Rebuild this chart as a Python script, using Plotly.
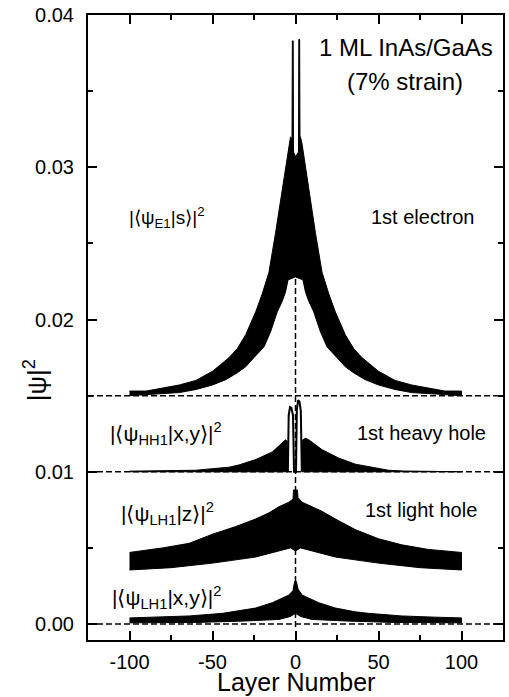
import plotly.graph_objects as go

# ---------------- data ----------------
# 1st electron |<psi_E1|s>|^2  (offset baseline 0.015)
e_up_x = [-100, -90, -80, -70, -60, -50, -40, -35, -30, -24, -20, -16, -12, -9, -6, -4, -3, -2.1, -1.9, -1.4, -1.2,
          0, 1.8, 2.0, 2.5, 2.7, 3, 4, 6, 9, 12, 16, 20, 24, 30, 35, 40, 50, 60, 70, 80, 90, 100]
e_up_y = [0.0153, 0.0153, 0.0155, 0.0157, 0.0160, 0.0166, 0.0175, 0.0181, 0.0190, 0.0205, 0.0217, 0.0231, 0.0257,
          0.0279, 0.0300, 0.0315, 0.0320, 0.0318, 0.0383, 0.0383, 0.0310,
          0.0307, 0.0310, 0.0384, 0.0384, 0.0318, 0.0320, 0.0315, 0.0300, 0.0279, 0.0257, 0.0231, 0.0217, 0.0205,
          0.0190, 0.0181, 0.0175, 0.0166, 0.0160, 0.0157, 0.0155, 0.0153, 0.0153]
e_lo_x = [-100, -85, -70, -60, -50, -42, -35, -30, -25, -19, -15, -11, -8, -6, -4.5, 0,
          4.5, 6, 8, 11, 15, 19, 25, 30, 35, 42, 50, 60, 70, 85, 100]
e_lo_y = [0.0150, 0.0151, 0.0152, 0.0154, 0.0157, 0.01605, 0.0165, 0.0169, 0.0175, 0.0182, 0.0192, 0.0205, 0.0212,
          0.0218, 0.0226, 0.0228,
          0.0226, 0.0218, 0.0212, 0.0205, 0.0192, 0.0182, 0.0175, 0.0169, 0.0165, 0.01605, 0.0157, 0.0154, 0.0152,
          0.0151, 0.0150]

# 1st heavy hole |<psi_HH1|x,y>|^2 (offset baseline 0.010)
hh_left_x = [-100, -70, -60, -50, -40, -34, -24, -14, -8, -6, -5, -4.6]
hh_left_up = [0.01004, 0.01005, 0.0101, 0.0102, 0.0103, 0.01045, 0.0108, 0.0113, 0.0119, 0.0121, 0.0120, 0.0103]
hh_left_lo = [0.0100] * len(hh_left_x)
hh_right_x = [3.8, 4.4, 6, 8, 16, 26, 36, 46, 56, 65, 100]
hh_right_up = [0.0103, 0.0121, 0.0122, 0.0121, 0.01145, 0.0109, 0.0105, 0.0103, 0.0101, 0.01005, 0.01004]
hh_right_lo = [0.0100] * len(hh_right_x)
hh_mid_x = [-4.6, -4.1, -3.3, -2.5, -1.5, -0.9, 0.3, 0.8, 1.6, 2.4, 3.2, 3.8]
hh_mid_y = [0.0100, 0.0137, 0.01425, 0.0142, 0.0137, 0.0100, 0.0100, 0.0141, 0.0147, 0.0146, 0.0140, 0.0100]

# 1st light hole |<psi_LH1|z>|^2
lz_up_x = [-100, -90, -80, -64, -50, -36, -24, -16, -10, -4, -1.5, -1.2, 1.2, 1.5, 4, 10, 16, 24, 36, 50, 64, 80, 90, 100]
lz_up_y = [0.0047, 0.00485, 0.0050, 0.0053, 0.0059, 0.0064, 0.0069, 0.0073, 0.0077, 0.0080, 0.0082, 0.0088,
           0.0088, 0.0083, 0.0080, 0.0077, 0.0074, 0.0069, 0.0062, 0.0056, 0.0052, 0.0049, 0.0048, 0.0047]
lz_lo_x = [-100, -75, -50, -24, -10, -3, 0, 3, 10, 24, 50, 75, 100]
lz_lo_y = [0.00355, 0.0037, 0.0040, 0.0044, 0.0048, 0.0050, 0.0048, 0.0050, 0.0048, 0.0044, 0.0040, 0.0037, 0.00355]

# 1st light hole |<psi_LH1|x,y>|^2
lxy_up_x = [-100, -84, -64, -44, -24, -14, -8, -4, -1.5, -0.5, 0.5, 1.5, 4, 8, 14, 24, 36, 44, 64, 84, 100]
lxy_up_y = [0.0004, 0.00045, 0.00053, 0.0007, 0.00105, 0.0014, 0.0017, 0.0019, 0.0022, 0.0028, 0.0028, 0.0023,
            0.0019, 0.0017, 0.0014, 0.00105, 0.0008, 0.0007, 0.00053, 0.00045, 0.0004]
lxy_lo_x = [-100, -60, -30, -10, -3, 0, 3, 10, 30, 60, 100]
lxy_lo_y = [0.00008, 0.0001, 0.0002, 0.0003, 0.0005, 0.0007, 0.0005, 0.0003, 0.0002, 0.0001, 0.00008]

baselines = [0.015, 0.010, 0.000]
x_range = [-125, 125]
y_range = [-0.00105, 0.0400]
center_line_y = [-0.0002, 0.0228]

x_ticks = [-100, -50, 0, 50, 100]
y_ticks = [0.00, 0.01, 0.02, 0.03, 0.04]

FONT = "Liberation Sans, Arial, Helvetica, sans-serif"
DASH = "6px,3px"

fig = go.Figure()

# dashed reference lines
for b in baselines:
    fig.add_trace(go.Scatter(x=x_range, y=[b, b], mode="lines",
                             line=dict(color="black", width=1.5, dash=DASH), hoverinfo="skip"))
fig.add_trace(go.Scatter(x=[0, 0], y=center_line_y, mode="lines",
                         line=dict(color="black", width=1.5, dash=DASH), hoverinfo="skip"))


def band(ux, uy, lx, ly):
    xs = list(ux) + list(lx)[::-1]
    ys = list(uy) + list(ly)[::-1]
    fig.add_trace(go.Scatter(x=xs, y=ys, mode="lines", fill="toself", fillcolor="black",
                             line=dict(color="black", width=1), hoverinfo="skip"))


band(e_up_x, e_up_y, e_lo_x, e_lo_y)
band(hh_left_x, hh_left_up, hh_left_x, hh_left_lo)
band(hh_right_x, hh_right_up, hh_right_x, hh_right_lo)
fig.add_trace(go.Scatter(x=hh_mid_x, y=hh_mid_y, mode="lines",
                         line=dict(color="black", width=2), hoverinfo="skip"))
band(lz_up_x, lz_up_y, lz_lo_x, lz_lo_y)
band(lxy_up_x, lxy_up_y, lxy_lo_x, lxy_lo_y)

# text annotations
L, R, T, B = 88, 505, 15, 640


def px(xp):
    return (xp - L) / (R - L)


def py(yp):
    return (B - yp) / (B - T)


annos = [
    ("1 ML InAs/GaAs", 408, 47, 24),
    ("(7% strain)", 407, 82, 24),
    ("|⟨ψ<sub>E1</sub>|s⟩|<sup>2</sup>", 167, 217, 19),
    ("1st electron", 424, 217, 20),
    ("|⟨ψ<sub>HH1</sub>|x,y⟩|<sup>2</sup>", 166, 433, 21),
    ("1st heavy hole", 423, 433, 20),
    ("|⟨ψ<sub>LH1</sub>|z⟩|<sup>2</sup>", 168, 513, 21),
    ("1st light hole", 423, 510, 20),
    ("|⟨ψ<sub>LH1</sub>|x,y⟩|<sup>2</sup>", 167, 597, 21),
]
annotations = []
for text, xp, yp, size in annos:
    annotations.append(dict(text=text, x=px(xp), y=py(yp), xref="paper", yref="paper",
                            xanchor="center", yanchor="middle", showarrow=False,
                            font=dict(size=size, color="black", family=FONT)))
annotations.append(dict(text="Layer Number", x=px(297), y=py(682), xref="paper", yref="paper",
                        xanchor="center", yanchor="middle", showarrow=False, borderpad=0,
                        font=dict(size=25, color="black", family=FONT)))
annotations.append(dict(text="|ψ|<sup>2</sup>", x=px(35), y=py(380), xref="paper", yref="paper",
                        xanchor="center", yanchor="middle", showarrow=False, textangle=-90,
                        font=dict(size=26, color="black", family=FONT)))

axis_common = dict(showline=True, linecolor="black", linewidth=2, mirror="ticks",
                   ticks="inside", ticklen=9, tickwidth=1.5, tickcolor="black",
                   showgrid=False, zeroline=False,
                   tickfont=dict(size=20, color="black", family=FONT))

fig.update_layout(
    width=509, height=697,
    margin=dict(l=L, r=509 - R, t=T, b=697 - B),
    plot_bgcolor="white", paper_bgcolor="white",
    showlegend=False,
    annotations=annotations,
    xaxis=dict(range=x_range, tickvals=x_ticks, ticktext=[str(v) for v in x_ticks],
               minor=dict(ticks="inside", ticklen=5, tickwidth=1.5, tickcolor="black", dtick=25, tick0=0),
               ticklabelstandoff=3, **axis_common),
    yaxis=dict(range=y_range, tickvals=y_ticks, ticktext=[f"{v:.2f}" for v in y_ticks],
               minor=dict(ticks="inside", ticklen=5, tickwidth=1.5, tickcolor="black", dtick=0.005, tick0=0),
               ticklabelstandoff=8, **axis_common),
)

fig.write_html("out.html")
